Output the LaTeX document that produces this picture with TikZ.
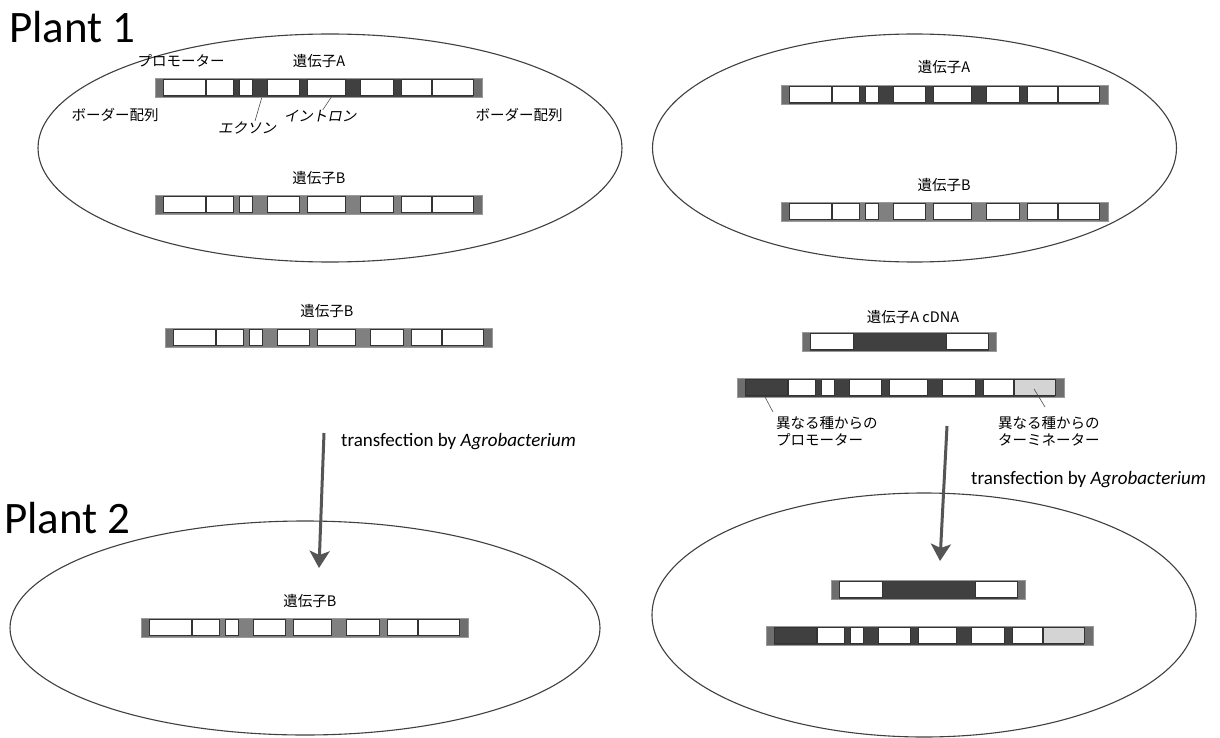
\documentclass[tikz,border=0pt]{standalone}
\usepackage{fontspec}
\setmainfont{Carlito}
\newfontfamily\jp{Noto Sans CJK JP}
\newfontfamily\jpit[FakeSlant=0.2]{Noto Sans CJK JP}
\usetikzlibrary{arrows.meta}
\definecolor{exA}{HTML}{404040}
\definecolor{exB}{HTML}{808080}
\definecolor{bord}{HTML}{6E6E6E}
\definecolor{term}{HTML}{D4D4D4}
\definecolor{edge}{HTML}{404040}
\definecolor{arrc}{HTML}{555555}
\tikzset{
  seg/.style={draw=black!80,line width=0.6pt},
  barframe/.style={draw=black!40,line width=0.6pt,inner sep=0pt,minimum height=19pt},
  oval/.style={draw=edge,line width=1.1pt},
  jl/.style={font=\jp\fontsize{14.5}{17}\selectfont,inner sep=0pt},
  jli/.style={font=\jpit\fontsize{14.5}{17}\selectfont,inner sep=0pt},
  lead/.style={draw=black!70,line width=0.6pt},
  arr/.style={draw=arrc,line width=3pt,-{Stealth[length=17pt,width=20pt,inset=4pt]}},
  big/.style={font=\fontsize{45}{52}\selectfont,inner sep=0pt,anchor=west},
  tr/.style={font=\fontsize{19}{22}\selectfont,inner sep=0pt,anchor=west}
}
\newcommand\genebar[6]{%
\begin{scope}[shift={(#2,#3)}]
  \fill[#4] (0,0) rectangle (327,19);
  \fill[bord] (0,0) rectangle (8,19);
  \fill[bord] (318,0) rectangle (327,19);
  \draw[seg,fill=#5] (8,1.5) rectangle (50,17.5);
  \foreach \a/\b in {51/78,84/97,112/144,152/190,205/238,246/276}
    \draw[seg,fill=white] (\a,1.5) rectangle (\b,17.5);
  \draw[seg,fill=#6] (277,1.5) rectangle (318,17.5);
  \node[barframe,minimum width=327pt,anchor=north west] (#1) at (0,0) {};
\end{scope}}
\newcommand\cdnabar[4]{%
\begin{scope}[shift={(#2,#3)}]
  \fill[#4] (0,0) rectangle (194,19);
  \fill[bord] (0,0) rectangle (8,19);
  \fill[bord] (186.5,0) rectangle (194,19);
  \draw[seg,fill=white] (8,1.5) rectangle (51,17.5);
  \draw[seg,fill=white] (144.5,1.5) rectangle (186.5,17.5);
  \node[barframe,minimum width=194pt,anchor=north west] (#1) at (0,0) {};
\end{scope}}
\begin{document}
\begin{tikzpicture}[x=1pt,y=-1pt]
\useasboundingbox (0,0) rectangle (1220,738);
\fill[white] (0,0) rectangle (1220,738);
% ellipses (plants)
\draw[oval] (330,148) ellipse [x radius=292pt, y radius=114pt];
\draw[oval] (914.5,148) ellipse [x radius=262pt, y radius=114pt];
\draw[oval] (305,628) ellipse [x radius=295pt, y radius=107pt];
\draw[oval] (924,615) ellipse [x radius=272pt, y radius=122pt];
% titles
\node[big] (p1) at (9,27) {Plant 1};
\node[big] (p2) at (4,518) {Plant 2};
% plant 1 genes
\genebar{gA1}{155}{78}{exA}{white}{white}
\genebar{gB1}{155}{195}{exB}{white}{white}
\node[jl] (tPro) at (181,61) {プロモーター};
\node[jl] (tA1) at (319,61) {遺伝子A};
\node[jl] (tBd1) at (115,115) {ボーダー配列};
\node[jl] (tBd2) at (519,115) {ボーダー配列};
\node[jli] (tEx) at (247,128) {エクソン};
\node[jli] (tIn) at (320,116) {イントロン};
\coordinate (exP) at (261.7,98);
\coordinate (inP) at (331.7,96.5);
\draw[lead] (exP) -- (255,121);
\draw[lead] (inP) -- (322.7,110);
\node[jl] (tB1) at (319,178) {遺伝子B};
% right plant 1
\genebar{gA2}{781}{85}{exA}{white}{white}
\genebar{gB2}{781}{202}{exB}{white}{white}
\node[jl] (tA2) at (944,67) {遺伝子A};
\node[jl] (tB2) at (944,185) {遺伝子B};
% middle constructs
\node[jl] (tBm) at (327,311) {遺伝子B};
\genebar{gBm}{165}{328}{exB}{white}{white}
\node[jl] (tcd) at (913,317) {遺伝子A cDNA};
\cdnabar{cd1}{802}{332}{exA}
\genebar{mod1}{737}{378}{exA}{exA}{term}
\node[jl,anchor=west,align=left] (tProm) at (776,431) {異なる種からの\\プロモーター};
\node[jl,anchor=west,align=left] (tTerm) at (998,431) {異なる種からの\\ターミネーター};
\coordinate (pmP) at (765,397);
\coordinate (tmP) at (1034,389);
\draw[lead] (pmP) -- (773,412);
\draw[lead] (tmP) -- (1045,407);
% arrows
\coordinate (a1s) at (324,433);
\coordinate (a1e) at (319,568);
\coordinate (a2s) at (947,426);
\coordinate (a2e) at (940,561);
\draw[arr] (a1s) -- (a1e);
\draw[arr] (a2s) -- (a2e);
\node[tr] (tr1) at (341,442) {transfection by \textit{Agrobacterium}};
\node[tr] (tr2) at (971,480) {transfection by \textit{Agrobacterium}};
% plant 2
\node[jl] (tB3) at (310,601) {遺伝子B};
\genebar{gB3}{141}{618}{exB}{white}{white}
\cdnabar{cd2}{831}{580}{exA}
\genebar{mod2}{766}{626}{exA}{exA}{term}
\end{tikzpicture}
\end{document}
